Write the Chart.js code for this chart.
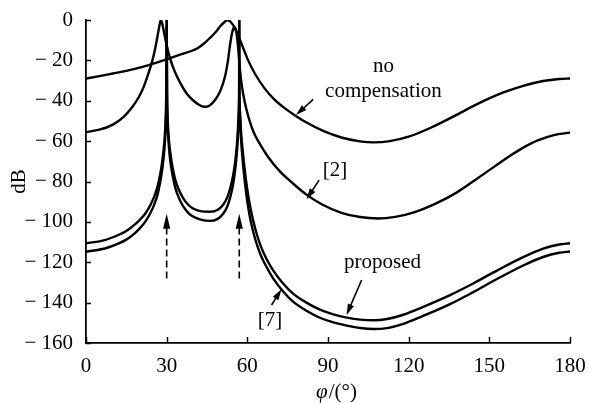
<!DOCTYPE html>
<html><head><meta charset="utf-8">
<script src="https://cdn.jsdelivr.net/npm/chart.js@4/dist/chart.umd.min.js"></script>
<style>html,body{margin:0;padding:0;background:#fff}</style>
</head><body>
<canvas id="c" width="590" height="403" style="width:590px;height:403px;display:block"></canvas>
<script>
// ---- data (phi in degrees, response in dB) ----
const xTickValues = [0, 30, 60, 90, 120, 150, 180];
const yTickValues = [0, -20, -40, -60, -80, -100, -120, -140, -160];
const xTitleSymbol = 'φ';
const xTitleRest = '/(°)';
const yTitle = 'dB';

const noCompensation = [[0,-29],[5,-27.8],[10,-26.5],[15,-25.2],[20,-23.6],[25,-21.6],[30,-19.5],[35,-17.2],[41.5,-14],[44,-11.5],[46,-9],[48,-6.3],[50,-3],[51.5,-1],[52.6,0],[53.8,-1],[55.4,-4],[57,-9],[58.5,-14],[60.3,-20],[63,-27],[66.5,-34],[70,-39.3],[74,-43.8],[78.3,-47.8],[82,-50.8],[88,-54.8],[95,-58.2],[101.9,-60.1],[107,-60.6],[113,-60],[120,-57.8],[128,-53.5],[137.8,-47],[146,-41.3],[155,-36],[162.6,-32.6],[170,-30.2],[176,-29.2],[180,-29]];

const ref2 = [[0,-55.5],[5,-54.3],[10,-51.8],[14,-48],[17,-43.5],[19.5,-38.5],[21.5,-33],[23.2,-26.5],[24.7,-20],[25.9,-13],[26.8,-6.5],[27.4,-2.2],[27.8,0],[28.3,-1.5],[29,-6],[30,-12.5],[31.5,-20],[33,-25.5],[35,-31],[37.5,-36.5],[40,-40],[42,-42],[44,-43],[46,-42.3],[48,-39.6],[50,-35],[51.7,-28],[52.7,-21],[53.6,-12],[54.4,-6],[55.2,-3.5],[55.9,-6],[56.5,-12.5],[57.2,-24],[58,-33],[59.1,-41],[60.3,-47.5],[61.6,-53],[63,-57.5],[64.7,-61.5],[67.8,-68],[72.1,-75],[77,-81],[82,-86.5],[88,-91.5],[95,-95.5],[101.9,-97.6],[108.5,-98.3],[115,-97.5],[122,-95.3],[130,-91],[137.8,-85.5],[145,-79],[152,-72.5],[158,-67],[162.6,-63.2],[168,-59.6],[174,-57],[180,-55.8]];

const proposed = [[0,-110.6],[7,-109],[12,-106.5],[15,-104.5],[18,-101.5],[20,-99],[22,-96],[24,-91.5],[25.5,-87],[26.7,-82],[27.5,-77],[28.2,-71.5],[28.8,-65],[29.3,-57.5],[29.65,-48],[29.85,-35],[30,0],[30.15,-35],[30.35,-48],[30.7,-57],[31.2,-64],[31.8,-70],[32.5,-75],[33.3,-79.5],[34.5,-84],[36,-88],[38,-91.5],[40,-93.5],[43,-94.8],[46,-95],[49,-94],[51,-91.5],[52.5,-88],[53.7,-83],[54.7,-77],[55.5,-70],[56.1,-62],[56.5,-54],[56.8,-45],[56.95,-33],[57,0],[57.05,-33],[57.3,-46],[57.7,-56],[58.3,-65],[59.1,-75],[60,-84],[61,-92],[62.2,-99.5],[63.5,-106],[65,-112],[67,-118],[69.6,-124],[73,-130],[77,-135.5],[82,-140],[87,-143.5],[92,-145.8],[97,-147.4],[102,-148.4],[107,-148.7],[112,-148.1],[118,-146],[125,-142.3],[135,-136.5],[144,-130.5],[153,-124],[162.6,-117.5],[170,-113.3],[176,-111.2],[180,-110.6]];

const ref7 = [[0,-114.8],[7,-113.2],[12,-110.8],[15,-108.8],[18,-105.8],[20,-103.2],[22,-100],[24,-95.5],[25.5,-91],[26.7,-86],[27.5,-81],[28.2,-75.5],[28.8,-69],[29.3,-61.5],[29.65,-52],[29.85,-38],[30,0],[30.15,-38],[30.35,-51],[30.7,-60.5],[31.2,-68],[31.8,-74],[32.5,-79],[33.3,-83.5],[34.5,-88],[36,-92],[38,-95.5],[40,-97.5],[43,-99],[46,-99.5],[49,-98.5],[51,-96],[52.5,-92.5],[53.7,-87.5],[54.7,-81.5],[55.5,-74],[56.1,-66],[56.5,-58],[56.8,-49],[56.95,-37],[57,0],[57.05,-37],[57.3,-50],[57.7,-60],[58.3,-70],[59.1,-80.5],[60,-90],[61,-98],[62.2,-105],[63.5,-111],[65,-116.5],[67,-122],[69.6,-128],[73,-134],[77,-139.5],[82,-144],[87,-147.5],[92,-149.8],[97,-151.4],[102,-152.6],[107,-153.1],[112,-152.6],[118,-150.5],[125,-146.8],[135,-141],[144,-134.8],[153,-128.2],[162.6,-121.6],[170,-117.4],[176,-115.3],[180,-114.7]];

// annotation texts (anchor in data units: phi, dB at baseline)
const noteTexts = ['no', 'compensation', '[2]', 'proposed', '[7]'];
const noteAnchors = [[110.6,-25.6],[110.6,-37.9],[92.6,-77.3],[110.3,-123],[68.4,-151.6]];
// pointer arrows: [fromPhi, fromDb, tipPhi, tipDb]
const pointerArrows = [[84.5,-39.3,78.1,-47.1],[86.7,-79.3,82,-88.8],[102.5,-128.8,96.9,-146.1],[69,-141.2,72.7,-133.4]];
// dashed arrows marking interference directions
const jammerPhi = [30, 57];
const jammerFrom = -128;
const jammerTo = -96;

const FONT = '"Liberation Serif", "Times New Roman", serif';

function toXY(a){ return a.map(p => ({x:p[0], y:p[1]})); }
function ds(label, arr){
  return {label, data: toXY(arr), borderColor:'#000', borderWidth:2.4, pointRadius:0,
    fill:false, cubicInterpolationMode:'monotone', borderJoinStyle:'round', borderCapStyle:'round'};
}

function arrowHead(ctx, x1, y1, x2, y2, len, half){
  const ang = Math.atan2(y2-y1, x2-x1);
  ctx.beginPath();
  ctx.moveTo(x2, y2);
  ctx.lineTo(x2 - len*Math.cos(ang) + half*Math.sin(ang), y2 - len*Math.sin(ang) - half*Math.cos(ang));
  ctx.lineTo(x2 - len*Math.cos(ang) - half*Math.sin(ang), y2 - len*Math.sin(ang) + half*Math.cos(ang));
  ctx.closePath();
  ctx.fill();
}

const extras = {
  id:'extras',
  afterDraw(chart){
    const {ctx, chartArea:a} = chart;
    const xs = chart.scales.x, ys = chart.scales.y;
    ctx.save();
    ctx.strokeStyle = '#000'; ctx.fillStyle = '#000';
    // inward tick marks
    ctx.lineWidth = 1.5;
    xTickValues.forEach(v => {
      const px = Math.round(xs.getPixelForValue(v)) + 0.5;
      ctx.beginPath(); ctx.moveTo(px, a.bottom); ctx.lineTo(px, a.bottom - 6); ctx.stroke();
    });
    yTickValues.forEach(v => {
      const py = Math.round(ys.getPixelForValue(v)) + 0.5;
      ctx.beginPath(); ctx.moveTo(a.left, py); ctx.lineTo(a.left + 5, py); ctx.stroke();
    });
    // pointer arrows
    ctx.lineWidth = 1.6;
    pointerArrows.forEach(p => {
      const x1 = xs.getPixelForValue(p[0]), y1 = ys.getPixelForValue(p[1]);
      const x2 = xs.getPixelForValue(p[2]), y2 = ys.getPixelForValue(p[3]);
      const ang = Math.atan2(y2-y1, x2-x1);
      ctx.beginPath(); ctx.moveTo(x1, y1); ctx.lineTo(x2 - 6*Math.cos(ang), y2 - 6*Math.sin(ang)); ctx.stroke();
      arrowHead(ctx, x1, y1, x2, y2, 11, 3.3);
    });
    // dashed arrows
    jammerPhi.forEach(phi => {
      const px = xs.getPixelForValue(phi);
      const y1 = ys.getPixelForValue(jammerFrom), y2 = ys.getPixelForValue(jammerTo);
      ctx.setLineDash([7, 4]);
      ctx.beginPath(); ctx.moveTo(px, y1); ctx.lineTo(px, y2 + 10); ctx.stroke();
      ctx.setLineDash([]);
      arrowHead(ctx, px, y1, px, y2, 15, 3.6);
    });
    // annotation texts
    ctx.font = '21px ' + FONT;
    ctx.textAlign = 'center'; ctx.textBaseline = 'alphabetic';
    noteTexts.forEach((t, i) => {
      ctx.fillText(t, xs.getPixelForValue(noteAnchors[i][0]), ys.getPixelForValue(noteAnchors[i][1]));
    });
    // x axis title: italic phi + upright rest
    ctx.textAlign = 'left';
    ctx.font = 'italic 21px ' + FONT;
    const w1 = ctx.measureText(xTitleSymbol).width;
    ctx.font = '21px ' + FONT;
    const w2 = ctx.measureText(xTitleRest).width;
    const cx = (a.left + a.right) / 2 + 8;
    const base = 398;
    ctx.font = 'italic 21px ' + FONT;
    ctx.fillText(xTitleSymbol, cx - (w1 + w2) / 2, base);
    ctx.font = '21px ' + FONT;
    ctx.fillText(xTitleRest, cx - (w1 + w2) / 2 + w1 + 1, base);
    ctx.restore();
  }
};

new Chart(document.getElementById('c'), {
  type: 'line',
  data: { datasets: [ds('no compensation', noCompensation), ds('[2]', ref2), ds('proposed', proposed), ds('[7]', ref7)] },
  options: {
    responsive: false, animation: false, devicePixelRatio: 1,
    layout: { padding: { left: 0, right: 20, top: 20, bottom: 0 } },
    plugins: { legend: { display: false }, tooltip: { enabled: false } },
    scales: {
      x: {
        type: 'linear', min: 0, max: 180,
        afterFit(s){ s.height = 60; },
        grid: { display: false },
        border: { display: true, color: '#000', width: 1.8 },
        ticks: { stepSize: 30, color: '#000', padding: 3, maxRotation: 0, font: { family: FONT, size: 21 } },
        afterBuildTicks(s){ s.ticks = xTickValues.map(v => ({value: v})); }
      },
      y: {
        type: 'linear', min: -160, max: 0,
        afterFit(s){ s.width = 86; },
        grid: { display: false },
        border: { display: true, color: '#000', width: 1.8 },
        title: { display: true, text: yTitle, color: '#000', padding: { top: 7, bottom: 0 }, font: { family: FONT, size: 21 } },
        ticks: { color: '#000', padding: 5, font: { family: FONT, size: 21 },
          callback: v => v < 0 ? '\u2212 ' + Math.abs(v) : String(v) },
        afterBuildTicks(s){ s.ticks = yTickValues.map(v => ({value: v})); }
      }
    }
  },
  plugins: [extras]
});
</script>
</body></html>
